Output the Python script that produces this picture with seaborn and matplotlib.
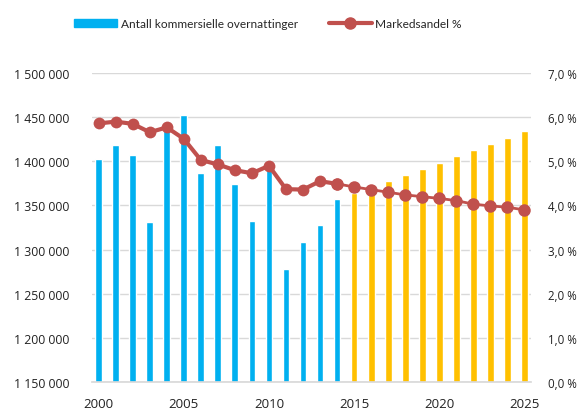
import matplotlib
matplotlib.use("Agg")
import matplotlib.pyplot as plt
import seaborn as sns
import pandas as pd
from matplotlib.ticker import FuncFormatter, MultipleLocator
from matplotlib.lines import Line2D
from matplotlib.patches import Patch

BLUE = "#00B0F0"
YELLOW = "#FFC000"
RED = "#C0504D"
GRID = "#D9D9D9"

years = list(range(2000, 2026))
overnattinger = [
    1403000, 1418500, 1407000, 1331000, 1438500, 1453000, 1386500, 1419000,
    1374500, 1332500, 1395000, 1278000, 1309000, 1328000, 1357500,
    1364500, 1370500, 1377300, 1384100, 1391300, 1398600, 1405700,
    1412300, 1419600, 1426400, 1434700,
]
markedsandel = [
    5.86, 5.90, 5.85, 5.66, 5.77, 5.51, 5.03, 4.93, 4.80, 4.73, 4.90,
    4.37, 4.36, 4.55, 4.49,
    4.42, 4.36, 4.30, 4.24, 4.20, 4.16, 4.11, 4.03, 3.99, 3.96, 3.90,
]
siste_faktiske = 2014
xticks = [2000, 2005, 2010, 2015, 2020, 2025]

df = pd.DataFrame({"aar": years, "overnattinger": overnattinger, "andel": markedsandel})
df["periode"] = ["faktisk" if y <= siste_faktiske else "prognose" for y in years]

sns.set_theme(style="white")
plt.rcParams["font.family"] = ["Open Sans", "DejaVu Sans"]

fig = plt.figure(figsize=(5.85, 4.14), dpi=100)
ax = fig.add_axes([0.157, 0.075, 0.751, 0.746])

sns.barplot(data=df, x="aar", y="overnattinger", hue="periode",
            palette={"faktisk": BLUE, "prognose": YELLOW},
            native_scale=True, width=0.4, dodge=False, legend=False,
            saturation=1, ax=ax)
ax.set_ylim(1150000, 1500000)
ax.set_xlim(1999.6, 2025.4)
ax.yaxis.set_major_locator(MultipleLocator(50000))
ax.yaxis.set_major_formatter(FuncFormatter(lambda v, p: f"{v:,.0f}".replace(",", " ")))
ax.set_xticks(xticks)
ax.grid(axis="y", color=GRID, lw=1)
ax.set_axisbelow(True)
ax.set_xlabel("")
ax.set_ylabel("")
for s in ["top", "right", "left"]:
    ax.spines[s].set_visible(False)
ax.spines["bottom"].set_color(GRID)
ax.tick_params(axis="both", length=0, colors="#222222")
ax.tick_params(axis="y", pad=16, labelsize=8.8)
ax.tick_params(axis="x", pad=11, labelsize=9.5)

ax2 = ax.twinx()
faktisk = df[df["aar"] <= siste_faktiske]
prognose = df[df["aar"] >= siste_faktiske]
sns.lineplot(data=prognose, x="aar", y="andel", color=RED, lw=2, marker="o",
             markersize=9, markeredgewidth=0, ax=ax2)
sns.lineplot(data=faktisk, x="aar", y="andel", color=RED, lw=3, marker="o",
             markersize=8.5, markeredgewidth=0, ax=ax2)
ax2.set_ylim(0, 7)
ax2.yaxis.set_major_locator(MultipleLocator(1))
ax2.yaxis.set_major_formatter(FuncFormatter(lambda v, p: f"{v:.1f} %".replace(".", ",")))
ax2.set_xlabel("")
ax2.set_ylabel("")
for s in ax2.spines.values():
    s.set_visible(False)
ax2.tick_params(axis="y", length=0, labelsize=8.3, colors="#222222", pad=12)

handles = [
    Patch(color=BLUE, label="Antall kommersielle overnattinger"),
    Line2D([], [], color=RED, lw=3, marker="o", markersize=8, label="Markedsandel %"),
]
fig.legend(handles=handles, loc="upper center", bbox_to_anchor=(0.458, 0.98), ncol=2,
           frameon=False, prop={"family": "Lato", "size": 8.6}, handlelength=3.6,
           handletextpad=0.3, columnspacing=2.6)

fig.savefig("out.png", dpi=100)
